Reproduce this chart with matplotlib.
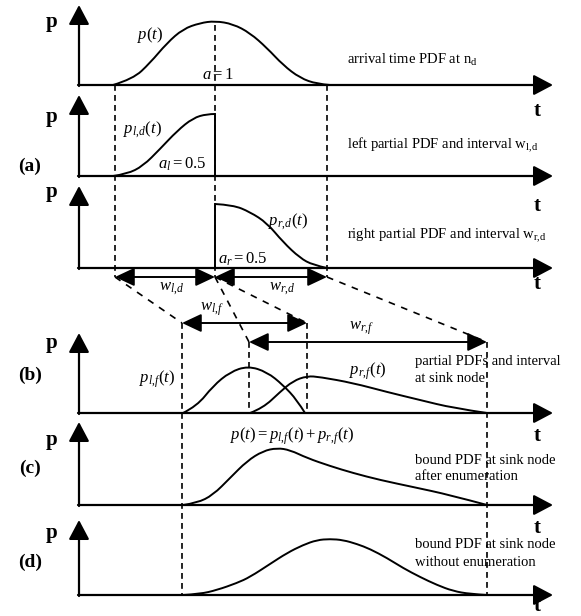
import matplotlib.pyplot as plt
from matplotlib.path import Path
from matplotlib.patches import PathPatch

plt.rcParams['font.family'] = 'Liberation Serif'
plt.rcParams['mathtext.fontset'] = 'custom'
plt.rcParams['mathtext.rm'] = 'Liberation Serif'
plt.rcParams['mathtext.it'] = 'Liberation Serif:italic'
plt.rcParams['mathtext.bf'] = 'Liberation Serif:bold'

# diagram drawn in pixel units (x to the right, y downwards)
baselines = [85, 176, 268, 413, 505, 595]
axis_tops = [5, 95, 186, 333, 422, 520]
axis_x0, axis_x1 = 79, 553

# curves
p_x = [113, 133, 150, 167, 183, 200, 215, 233, 250, 267, 283, 300, 317, 330]
p_y = [85, 79, 63, 43, 29, 23, 21, 24, 33, 48, 65, 78, 84, 85]

pld_x = [113, 127, 143, 160, 177, 193, 207, 215]
pld_y = [176, 174, 166, 149, 131, 118, 114, 114]

prd_x = [215, 233, 250, 267, 283, 300, 313, 327]
prd_y = [204, 205, 212, 223, 242, 258, 265, 268]

plf_x = [183, 197, 213, 230, 248, 267, 283, 297, 305]
plf_y = [413, 406, 386, 372, 366, 372, 385, 400, 413]

prf_x = [250, 263, 280, 293, 307, 320, 353, 387, 420, 453, 487]
prf_y = [413, 408, 392, 381, 376, 377, 383, 392, 400, 408, 413]

pc_x = [183, 197, 213, 230, 247, 263, 277, 290, 307, 330, 353, 380, 413, 450, 487]
pc_y = [505, 503, 495, 478, 461, 451, 448, 450, 458, 466, 473, 480, 487, 495, 505]

pd_x = [183, 200, 217, 237, 250, 270, 287, 303, 317, 330, 343, 357, 370, 387,
        403, 420, 437, 453, 470, 487]
pd_y = [595, 594, 590, 583, 577, 564, 553, 545, 540, 539, 540, 544, 549, 558,
        568, 577, 585, 591, 594, 595]

# dashed guides: (x0, y0, x1, y1)
guides = [(115, 85, 115, 277), (215, 25, 215, 277), (327, 85, 327, 277),
          (182, 323, 182, 595), (249, 342, 249, 413), (307, 323, 307, 413),
          (487, 342, 487, 595),
          (115, 277, 182, 323), (215, 277, 249, 342), (215, 277, 307, 323),
          (327, 277, 487, 342)]

# interval arrows: (x0, x1, y)
intervals = [(115, 215, 277), (215, 327, 277), (182, 307, 323), (249, 487, 342)]


def smooth(xs, ys):
    pts = list(zip(xs, ys))
    verts, codes = [pts[0]], [Path.MOVETO]
    for i in range(1, len(pts) - 1):
        if i < len(pts) - 2:
            end = ((pts[i][0] + pts[i + 1][0]) / 2, (pts[i][1] + pts[i + 1][1]) / 2)
        else:
            end = pts[-1]
        verts += [pts[i], end]
        codes += [Path.CURVE3, Path.CURVE3]
    return Path(verts, codes)


fig = plt.figure(figsize=(5.81, 6.16), dpi=100)
ax = fig.add_axes([0, 0, 1, 1])
ax.set_xlim(0, 581)
ax.set_ylim(616, 0)
ax.axis('off')

head = dict(arrowstyle='-|>,head_length=0.85,head_width=0.45', color='black',
            lw=1.6, mutation_scale=14, shrinkA=0, shrinkB=0)
for base, top in zip(baselines, axis_tops):
    ax.annotate('', xy=(axis_x0, top), xytext=(axis_x0, base + 1), arrowprops=head)
    ax.annotate('', xy=(axis_x1, base), xytext=(axis_x0 - 1, base), arrowprops=head)

for gx0, gy0, gx1, gy1 in guides:
    dash = (0, (3.5, 2.5)) if gx0 == gx1 else (0, (4, 4))
    ax.plot([gx0, gx1], [gy0, gy1], color='black', lw=1.2, linestyle=dash)

dbl = dict(arrowstyle='<|-|>,head_length=0.85,head_width=0.4', color='black',
           lw=1.4, mutation_scale=14, shrinkA=0, shrinkB=0)
for ix0, ix1, iy in intervals:
    ax.annotate('', xy=(ix1, iy), xytext=(ix0, iy), arrowprops=dbl)

for cx, cy in [(p_x, p_y), (pld_x, pld_y), (prd_x, prd_y), (plf_x, plf_y),
               (prf_x, prf_y), (pc_x, pc_y), (pd_x, pd_y)]:
    ax.add_patch(PathPatch(smooth(cx, cy), facecolor='none', edgecolor='black',
                           lw=1.4, joinstyle='round'))

# steps where the partial PDFs are cut off
ax.plot([pld_x[-1], pld_x[-1]], [pld_y[-1], baselines[1]], color='black', lw=1.4)
ax.plot([prd_x[0], prd_x[0]], [prd_y[0], baselines[2]], color='black', lw=1.4)

# axis letters
for y in [22, 117, 192, 343, 440, 533]:
    ax.text(52, y, 'p', fontsize=15, fontweight='bold', ha='center', va='center')
for y in [111, 206, 284, 436, 528, 606]:
    ax.text(537, y, 't', fontsize=15, fontweight='bold', ha='center', va='center')
for y, s in zip([166, 375, 468, 562], ['(a)', '(b)', '(c)', '(d)']):
    ax.text(30, y, s, fontsize=14, fontweight='bold', ha='center', va='center')

lab = dict(fontsize=12, ha='center', va='center')
ax.text(150, 35, '$p(t)$', **lab)
ax.text(218, 75, r'$a = \mathit{1}$', **lab)
ax.text(142, 130, r'$p_{l,\!d}(t)$', **lab)
ax.text(182, 164, r'$a_l = \mathit{0.5}$', **lab)
ax.text(288, 222, r'$p_{r,\!d}(t)$', **lab)
ax.text(243, 259, r'$a_r = \mathit{0.5}$', **lab)
ax.text(172, 289, r'$w_{l,\!d}$', **lab)
ax.text(282, 289, r'$w_{r,\!d}$', **lab)
ax.text(212, 309, r'$w_{l,\!f}$', **lab)
ax.text(362, 328, r'$w_{r,\!f}$', **lab)
ax.text(157, 379, r'$p_{l,\!f}(t)$', **lab)
ax.text(368, 371, r'$p_{r,\!f}(t)$', **lab)
ax.text(292, 436, r'$p(t) = p_{l,\!f}(t) + p_{r,\!f}(t)$', **lab)

desc = dict(fontsize=10.5, ha='left', va='center')
ax.text(347, 60, r'arrival time PDF at n$_\mathrm{d}$', **desc)
ax.text(347, 145, r'left partial PDF and interval w$_\mathrm{l,\!d}$', **desc)
ax.text(347, 236, r'right partial PDF and interval w$_\mathrm{r,\!d}$', **desc)
ax.text(415, 362, 'partial PDFs and interval', **desc)
ax.text(415, 378, 'at sink node', **desc)
ax.text(415, 460, 'bound PDF at sink node', **desc)
ax.text(415, 477, 'after enumeration', **desc)
ax.text(415, 545, 'bound PDF at sink node', **desc)
ax.text(415, 562, 'without enumeration', **desc)

fig.savefig('out.png', dpi=100)
